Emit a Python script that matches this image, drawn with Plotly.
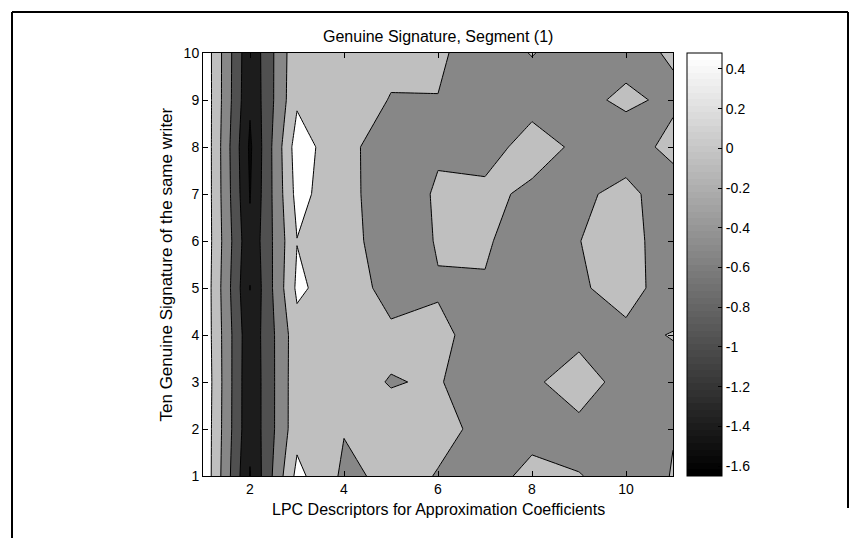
import plotly.graph_objects as go

# LPC descriptor index (x) and signature number (y)
descriptors = list(range(1, 12))
signatures = list(range(1, 11))

# Descriptor values, one row per signature (y = 1 .. 10), one column per descriptor (x = 1 .. 11)
row_sig1 = [0.46, -1.60, 0.22, -0.40, -0.233, -0.331, -0.50, -0.20, -0.306, -0.45, -0.309]
row_sig2 = [0.45, -1.50, -0.047, -0.30, -0.246, -0.266, -0.368, -0.467, -0.465, -0.55, -0.329]
row_sig3 = [0.47, -1.50, -0.05, -0.246, -0.331, -0.30, -0.47, -0.415, -0.05, -0.541, -0.467]
row_sig4 = [0.44, -1.48, -0.064, -0.12, -0.266, -0.257, -0.432, -0.55, -0.472, -0.42, -0.30]
row_sig5 = [0.45, -1.585, 0.181, -0.156, -0.425, -0.347, -0.353, -0.55, -0.377, -0.15, -0.55]
row_sig6 = [0.46, -1.50, 0.091, -0.132, -0.58, -0.29, -0.27, -0.55, -0.329, -0.10, -0.65]
row_sig7 = [0.47, -1.60, 0.238, -0.2075, -0.52, -0.28, -0.162, -0.45, -0.391, -0.217, -0.539]
row_sig8 = [0.48, -1.65, 0.316, -0.224, -0.498, -0.36, -0.59, -0.05, -0.441, -0.512, -0.202]
row_sig9 = [0.46, -1.527, 0.035, -0.12, -0.337, -0.331, -0.55, -0.55, -0.412, -0.256, -0.39]
row_sig10 = [0.45, -1.50, 0.0, -0.10, -0.23, -0.25, -0.55, -0.30, -0.55, -0.434, -0.28]

z_values = [row_sig1, row_sig2, row_sig3, row_sig4, row_sig5,
            row_sig6, row_sig7, row_sig8, row_sig9, row_sig10]

# Contour levels
level_start = -1.58
level_step = 0.42
level_end = 0.10

# Colour bar ticks
cbar_ticks = [-1.6, -1.4, -1.2, -1.0, -0.8, -0.6, -0.4, -0.2, 0.0, 0.2, 0.4]
cbar_labels = ["-1.6", "-1.4", "-1.2", "-1", "-0.8", "-0.6", "-0.4", "-0.2", "0", "0.2", "0.4"]

z_min = min(min(r) for r in z_values)
z_max = max(max(r) for r in z_values)

# Grey fill for each band, darkest (below the first level) to lightest
band_greys = [8, 28, 80, 135, 191, 255]
n_bands = len(band_greys)
fill_scale = [[i / (n_bands - 1), f"rgb({g},{g},{g})"] for i, g in enumerate(band_greys)]

# Stepped 64-colour grey map for the colour bar
n_steps = 64
gray_steps = []
for i in range(n_steps):
    g = round(255 * i / (n_steps - 1))
    c = f"rgb({g},{g},{g})"
    gray_steps.append([i / n_steps, c])
    gray_steps.append([(i + 1) / n_steps, c])

FONT = "Liberation Sans, Arial, Helvetica, sans-serif"
TICK_SIZE = 14
LABEL_SIZE = 16

fig = go.Figure()

fig.add_trace(go.Contour(
    x=descriptors,
    y=signatures,
    z=z_values,
    colorscale=fill_scale,
    showscale=False,
    contours=dict(start=level_start, end=level_end, size=level_step,
                  coloring="fill", showlines=True),
    line=dict(color="black", width=1, smoothing=0),
    hoverinfo="skip",
))

# Invisible trace carrying the grey colour bar
fig.add_trace(go.Scatter(
    x=[descriptors[0]], y=[signatures[0]],
    mode="markers",
    marker=dict(size=1, opacity=0, color=[z_min], colorscale=gray_steps,
                cmin=z_min, cmax=z_max, showscale=True,
                colorbar=dict(
                    x=(687 - 203) / 470, xanchor="left", xpad=0,
                    y=0.5, yanchor="middle", ypad=0,
                    len=1, lenmode="fraction",
                    thickness=35, thicknessmode="pixels",
                    outlinewidth=1, outlinecolor="black",
                    tickvals=cbar_ticks, ticktext=cbar_labels,
                    ticks="inside", ticklen=4, tickcolor="black",
                    tickfont=dict(family=FONT, size=TICK_SIZE, color="black"),
                )),
    hoverinfo="skip",
    showlegend=False,
))

axis_common = dict(
    showline=True, linecolor="black", linewidth=1, mirror="ticks",
    ticks="inside", ticklen=5, tickcolor="black", tickwidth=1,
    showgrid=False, zeroline=False,
    tickfont=dict(family=FONT, size=TICK_SIZE, color="black"),
)

fig.update_xaxes(range=[1, 11], tickvals=[2, 4, 6, 8, 10], **axis_common)
fig.update_yaxes(range=[1, 10], tickvals=list(range(1, 11)), **axis_common)

# Outer frame
frame = dict(type="line", xref="paper", yref="paper", line=dict(color="black", width=2))
px_x = lambda p: (p - 203) / 470
px_y = lambda p: (476 - p) / 423
shapes = [
    dict(frame, x0=px_x(12), x1=px_x(12), y0=px_y(12), y1=px_y(538)),
    dict(frame, x0=px_x(12), x1=px_x(848), y0=px_y(12), y1=px_y(12)),
    dict(frame, x0=px_x(848), x1=px_x(848), y0=px_y(12), y1=px_y(508)),
]

fig.update_layout(
    width=859, height=538,
    margin=dict(l=203, r=186, t=53, b=62),
    paper_bgcolor="white", plot_bgcolor="white",
    font=dict(family=FONT, size=TICK_SIZE, color="black"),
    showlegend=False,
    shapes=shapes,
    annotations=[
        dict(text="Genuine Signature, Segment (1)", xref="paper", yref="paper",
             x=0.5, y=px_y(37), showarrow=False, xanchor="center", yanchor="middle",
             font=dict(family=FONT, size=LABEL_SIZE, color="black")),
        dict(text="LPC Descriptors for Approximation Coefficients", xref="paper", yref="paper",
             x=px_x(438), y=px_y(510), showarrow=False, xanchor="center", yanchor="middle",
             font=dict(family=FONT, size=LABEL_SIZE, color="black")),
        dict(text="Ten Genuine Signature of the same writer", xref="paper", yref="paper",
             x=px_x(166), y=0.5, showarrow=False, textangle=-90,
             xanchor="center", yanchor="middle",
             font=dict(family=FONT, size=17, color="black")),
    ],
)

fig.write_html("out.html")
